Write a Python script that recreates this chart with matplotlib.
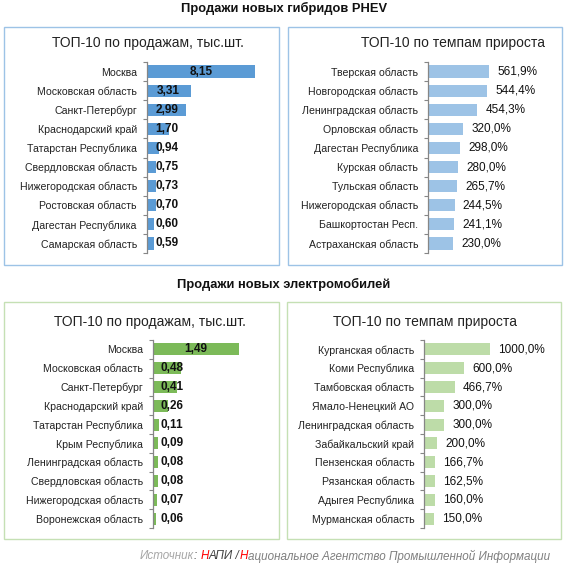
import matplotlib
matplotlib.use('Agg')
import matplotlib.pyplot as plt
from matplotlib.patches import Rectangle

plt.rcParams['font.family'] = ['Liberation Sans', 'DejaVu Sans']

# --- data ---
phev_sales_regions = ['Москва', 'Московская область', 'Санкт-Петербург', 'Краснодарский край',
                      'Татарстан Республика', 'Свердловская область', 'Нижегородская область',
                      'Ростовская область', 'Дагестан Республика', 'Самарская область']
phev_sales = [8.15, 3.31, 2.99, 1.70, 0.94, 0.75, 0.73, 0.70, 0.60, 0.59]

phev_growth_regions = ['Тверская область', 'Новгородская область', 'Ленинградская область',
                       'Орловская область', 'Дагестан Республика', 'Курская область',
                       'Тульская область', 'Нижегородская область', 'Башкортостан Респ.',
                       'Астраханская область']
phev_growth = [561.9, 544.4, 454.3, 320.0, 298.0, 280.0, 265.7, 244.5, 241.1, 230.0]

ev_sales_regions = ['Москва', 'Московская область', 'Санкт-Петербург', 'Краснодарский край',
                    'Татарстан Республика', 'Крым Республика', 'Ленинградская область',
                    'Свердловская область', 'Нижегородская область', 'Воронежская область']
ev_sales = [1.49, 0.48, 0.41, 0.26, 0.11, 0.09, 0.08, 0.08, 0.07, 0.06]

ev_growth_regions = ['Курганская область', 'Коми Республика', 'Тамбовская область',
                     'Ямало-Ненецкий АО', 'Ленинградская область', 'Забайкальский край',
                     'Пензенская область', 'Рязанская область', 'Адыгея Республика',
                     'Мурманская область']
ev_growth = [1000.0, 600.0, 466.7, 300.0, 300.0, 200.0, 166.7, 162.5, 160.0, 150.0]

W, H = 568, 565
fig = plt.figure(figsize=(W / 100, H / 100), dpi=100)


def fx(x):
    return x / W


def fy(y):
    return 1 - y / H


def panel(box, title, title_xy, ax_box, regions, values, color, border, fmt, inside, min_center=0):
    bx0, by0, bx1, by1 = box
    fig.patches.append(Rectangle((fx(bx0), fy(by1)), (bx1 - bx0) / W, (by1 - by0) / H,
                                 transform=fig.transFigure, fill=False, edgecolor=border, lw=1.0))
    fig.text(fx(title_xy[0]), fy(title_xy[1]), title, ha='center', va='center', fontsize=10, color='#222222')

    ax0, ay0, ax1, ay1 = ax_box
    ax = fig.add_axes([fx(ax0), fy(ay1), (ax1 - ax0) / W, (ay1 - ay0) / H])
    y = list(range(len(values)))
    ax.barh(y, values, height=0.64, color=color)
    ax.set_xlim(0, max(values))
    ax.set_ylim(len(values) - 0.5, -0.5)
    ax.set_yticks(y)
    ax.set_yticklabels(regions, fontsize=7.6, color='#222222')
    ax.set_yticks([i - 0.5 for i in range(len(values) + 1)], minor=True)
    ax.tick_params(axis='y', which='major', length=0, pad=7)
    ax.tick_params(axis='y', which='minor', length=3, color='#868686', width=0.8)
    ax.set_xticks([])
    for s in ['top', 'right', 'bottom']:
        ax.spines[s].set_visible(False)
    ax.spines['left'].set_color('#868686')
    ax.spines['left'].set_linewidth(0.9)
    ax.patch.set_alpha(0)

    for i, v in enumerate(values):
        if inside:
            ax.text(max(v / 2, min_center), i, fmt(v), ha='center', va='center',
                    fontsize=8.5, fontweight='bold', color='#111111', clip_on=False)
        else:
            ax.annotate(fmt(v), (v, i), xytext=(6, 0), textcoords='offset points',
                        ha='left', va='center', fontsize=8.5, color='#111111', annotation_clip=False)
    return ax


sales_fmt = lambda v: f'{v:.2f}'.replace('.', ',')
growth_fmt = lambda v: f'{v:.1f}%'.replace('.', ',')

fig.text(fx(284), fy(8), 'Продажи новых гибридов PHEV', ha='center', va='center',
         fontsize=9.3, fontweight='bold', color='#111111')
fig.text(fx(284), fy(284), 'Продажи новых электромобилей', ha='center', va='center',
         fontsize=9.3, fontweight='bold', color='#111111')

panel((4, 27, 279, 265), 'ТОП-10 по продажам, тыс.шт.', (148, 43), (146.5, 62, 255, 253),
      phev_sales_regions, phev_sales, '#5B9BD5', '#9DC3E6', sales_fmt, True, min_center=1.54)
panel((288, 27, 562, 265), 'ТОП-10 по темпам прироста', (453, 43), (428, 62, 489, 253),
      phev_growth_regions, phev_growth, '#9DC3E6', '#9DC3E6', growth_fmt, False)
panel((4, 302, 279, 539), 'ТОП-10 по продажам, тыс.шт.', (150, 322), (153, 340, 239, 528),
      ev_sales_regions, ev_sales, '#7CBA59', '#C5E0B4', sales_fmt, True, min_center=0.33)
panel((287, 302, 561, 539), 'ТОП-10 по темпам прироста', (425, 322), (424, 340, 490, 528),
      ev_growth_regions, ev_growth, '#BDDCA8', '#C5E0B4', growth_fmt, False)

# source line with colored pieces
pieces = [('Источник', '#A6A6A6'), (': ', '#404040'), ('Н', '#FF0000'), ('АПИ /', '#404040'),
          ('Н', '#FF0000'), ('ациональное Агентство Промышленной Информации', '#7F7F7F')]
renderer = fig.canvas.get_renderer()
x = 140
for txt, col in pieces:
    t = fig.text(fx(x), fy(556), txt, ha='left', va='center', fontsize=8.4,
                 style='italic', color=col)
    bb = t.get_window_extent(renderer=renderer)
    x += bb.width

fig.savefig('out.png', dpi=100)
